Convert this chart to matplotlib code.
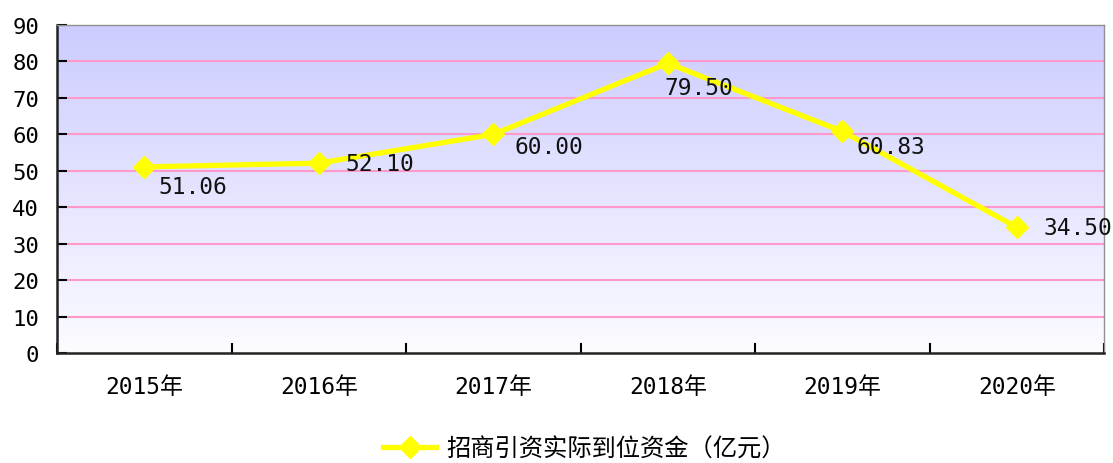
import matplotlib
matplotlib.use("Agg")
import matplotlib.pyplot as plt
import numpy as np
from matplotlib.colors import LinearSegmentedColormap

categories = ["2015年", "2016年", "2017年", "2018年", "2019年", "2020年"]
values = [51.06, 52.10, 60.00, 79.50, 60.83, 34.50]
labels = ["51.06", "52.10", "60.00", "79.50", "60.83", "34.50"]
series_name = "招商引资实际到位资金（亿元）"

FONT = ["DejaVu Sans Mono", "Noto Sans CJK SC"]
plt.rcParams['font.family'] = FONT

fig = plt.figure(figsize=(11.13, 4.64), dpi=100)
ax = fig.add_axes([57/1113, 1-354/464, (1104-57)/1113, (354-26)/464])

x = np.arange(len(categories))
ax.set_xlim(-0.5, len(categories)-0.5)
ax.set_ylim(0, 90)

# gradient background
cmap = LinearSegmentedColormap.from_list("bg", ["#fcfcff", "#ccccff"])
grad = np.linspace(0, 1, 256).reshape(-1, 1)
ax.imshow(grad, extent=[-0.5, len(categories)-0.5, 0, 90], origin="lower",
          aspect="auto", cmap=cmap, zorder=0)

for yv in range(10, 90, 10):
    ax.axhline(yv, color="#ff99cc", lw=1.5, zorder=1)

ax.plot(x, values, color="#ffff00", lw=3.8, marker="D", markersize=11,
        markerfacecolor="#ffff00", markeredgecolor="#ffff00", zorder=3,
        label=series_name)

offsets = [(14, -20), (27, 0), (21, -12), (-3, -24), (14, -15), (27, 0)]
for xi, v, lab, (dx, dy) in zip(x, values, labels, offsets):
    ax.annotate(lab, (xi, v), xytext=(dx*0.72, dy*0.72), textcoords="offset points",
                ha="left", va="center", fontsize=16.5, color="#111111", zorder=4,
                annotation_clip=False)

ax.set_yticks(range(0, 100, 10))
ax.set_xticks(x)
ax.set_xticklabels(categories)
ax.set_xticks(np.arange(-0.5, len(categories), 1), minor=True)
ax.tick_params(axis="y", direction="in", length=7, width=1.5, pad=13, labelsize=16)
ax.tick_params(axis="x", which="major", length=0, pad=16, labelsize=16.5)
ax.tick_params(axis="x", which="minor", direction="in", length=7, width=1.5)

for s in ["left", "bottom"]:
    ax.spines[s].set_color("#222222")
    ax.spines[s].set_linewidth(1.8)
for s in ["top", "right"]:
    ax.spines[s].set_color("#909090")
    ax.spines[s].set_linewidth(1.0)

fig.legend(loc="center", bbox_to_anchor=(0.525, 0.032), frameon=False,
           handlelength=2.2, handletextpad=0.4, borderpad=0.0,
           prop={"family": ["Noto Sans CJK SC"], "size": 17.5})

fig.savefig("out.png", dpi=100)
